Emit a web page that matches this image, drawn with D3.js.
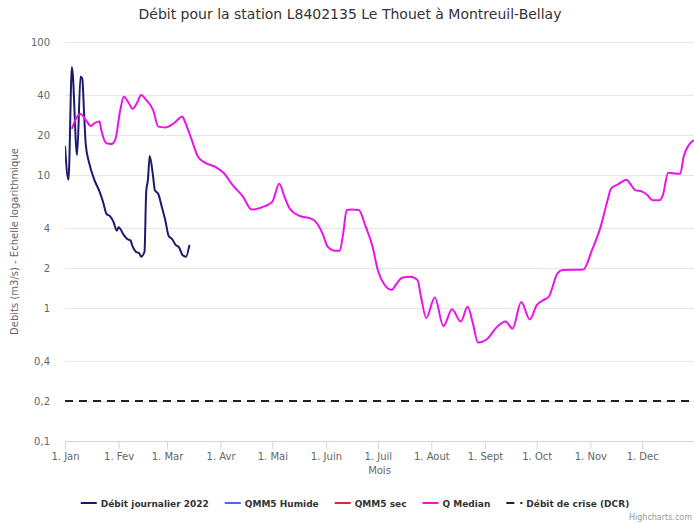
<!DOCTYPE html>
<html><head><meta charset="utf-8">
<script src="https://cdn.jsdelivr.net/npm/d3@7"></script>
<style>
body{margin:0;background:#fff}
svg{display:block;font-family:"DejaVu Sans",sans-serif}
</style></head>
<body><svg id="chart" width="694" height="524"></svg>
<script>
// ---------- data ----------
const titleText = "Débit pour la station L8402135 Le Thouet à Montreuil-Bellay";
const monthLabels = ["Jan","Fev","Mar","Avr","Mai","Juin","Juil","Aout","Sept","Oct","Nov","Dec"];
const yTickValues = [0.1, 0.2, 0.4, 1, 2, 4, 10, 20, 40, 100];

// Débit journalier 2022 (day of year, 0 = 1 Jan)
const dailyDays   = [0,2,4,7,9,10,11,12,14,17,20,22,24,26,28,30,31,34,36,38,39,41,43,44,46,47,48,49,51,52,54,56,58,60,62,64,66,68,70,72];
const dailyValues = [16.5,9.2,65,14.1,55,53,30,17,12.3,9.2,7.5,6.3,5.1,4.9,4.46,3.81,4.04,3.54,3.3,3.2,2.93,2.65,2.58,2.43,2.65,7.5,9.2,13.9,9.7,7.7,7.2,5.77,4.59,3.48,3.3,2.98,2.86,2.5,2.43,2.98];

// QMM5 (no visible data)
const qmm5HumideDays = [], qmm5HumideValues = [];
const qmm5SecDays = [], qmm5SecValues = [];

// Q Median
const medianDays   = [4,6,9,12,15,17,20,21,24,27,29,32,34,37,39,42,44,47,51,54,58,63,68,69,73,77,81,87,92,97,103,108,116,120,124,127,130,136,142,145,149,152,156,159,161,163,166,170,174,178,181,185,189,192,195,200,204,206,209,214,219,224,229,233,236,239,244,250,255,259,264,269,273,277,280,285,288,300,305,310,314,316,320,325,327,330,334,337,340,344,346,349,352,356,358,361,364];
const medianValues = [22.2,25.9,28.7,25.9,23.4,24.5,25.2,21.8,17.3,17.1,18.3,30.8,38.8,34.6,31.5,35.5,39.9,36.6,30.8,23.1,22.8,24.5,27.5,25.9,18.9,13.7,12.4,11.5,10.3,8.4,6.87,5.5,5.85,6.3,8.6,6.87,5.6,4.92,4.72,4.46,3.64,2.89,2.7,2.7,3.64,5.46,5.5,5.46,4.09,2.89,1.93,1.49,1.37,1.53,1.69,1.72,1.62,1.22,0.84,1.2,0.73,0.98,0.79,1.02,0.77,0.55,0.58,0.72,0.79,0.7,1.11,0.82,1.05,1.15,1.22,1.82,1.93,1.95,2.73,4.09,6.47,7.9,8.5,9.2,8.6,7.7,7.5,7.07,6.47,6.47,7.07,10.4,10.3,10.2,13.7,16.8,18.3];

// Débit de crise
const dcrValue = 0.2;

const legendNames  = ["Débit journalier 2022","QMM5 Humide","QMM5 sec","Q Median","Débit de crise (DCR)"];
const legendColors = ["#1b1b6b","#3d6ef0","#e3262b","#ea14ea","#222222"];

// ---------- chart ----------
const svg = d3.select("#chart");
const W = 694, H = 524;
const plot = {left: 65, right: 694, top: 42, bottom: 441};
const dayToDate = d => new Date(2022, 0, 1 + d);

const x = d3.scaleTime().domain([new Date(2022,0,1), new Date(2022,11,31)]).range([plot.left, plot.right]);
const y = d3.scaleLog().domain([0.1, 100]).range([plot.bottom, plot.top]);

svg.append("rect").attr("width", W).attr("height", H).attr("fill", "#fff");

// title
svg.append("text").attr("x", 350).attr("y", 19).attr("text-anchor", "middle")
  .attr("font-size", 14).attr("fill", "#333").text(titleText);

// grid
const grid = svg.append("g").attr("transform", `translate(${plot.left},0)`)
  .call(d3.axisRight(y).tickValues(yTickValues).tickSize(plot.right - plot.left).tickFormat(""));
grid.select(".domain").remove();
grid.selectAll("line").attr("stroke", "#e6e6e6");

// y axis labels
const yAx = svg.append("g").attr("transform", `translate(${plot.left},0)`)
  .call(d3.axisLeft(y).tickValues(yTickValues).tickSize(0).tickPadding(15)
    .tickFormat(d => String(d).replace(".", ",")));
yAx.select(".domain").remove();
yAx.selectAll("text").attr("font-size", 10).attr("fill", "#666").attr("font-family", "DejaVu Sans");

// x axis
const monthTicks = monthLabels.map((m, i) => new Date(2022, i, 1));
const xAx = svg.append("g").attr("transform", `translate(0,${plot.bottom})`)
  .call(d3.axisBottom(x).tickValues(monthTicks).tickSize(8).tickPadding(4)
    .tickFormat(d => "1. " + monthLabels[d.getMonth()]));
xAx.select(".domain").attr("stroke", "#ccd6eb");
xAx.selectAll("line").attr("stroke", "#ccd6eb");
xAx.selectAll("text").attr("font-size", 10).attr("fill", "#666").attr("font-family", "DejaVu Sans");

// axis titles
svg.append("text").attr("x", (plot.left + plot.right) / 2).attr("y", 474).attr("text-anchor", "middle")
  .attr("font-size", 10).attr("fill", "#666").text("Mois");
svg.append("text").attr("transform", `translate(18,${(plot.top + plot.bottom) / 2}) rotate(-90)`)
  .attr("text-anchor", "middle").attr("font-size", 10).attr("fill", "#666")
  .text("Debits (m3/s) - Echelle logarithmique");

// clip
svg.append("clipPath").attr("id", "clip").append("rect")
  .attr("x", plot.left).attr("y", plot.top - 5).attr("width", plot.right - plot.left).attr("height", plot.bottom - plot.top + 5);
const series = svg.append("g").attr("clip-path", "url(#clip)");

const line = d3.line().x(d => x(dayToDate(d[0]))).y(d => y(d[1])).curve(d3.curveMonotoneX);
const zip = (a, b) => a.map((d, i) => [d, b[i]]);

series.append("path").datum(zip(dailyDays, dailyValues)).attr("d", line)
  .attr("fill", "none").attr("stroke", legendColors[0]).attr("stroke-width", 2).attr("stroke-linejoin", "round");
series.append("path").datum(zip(qmm5HumideDays, qmm5HumideValues)).attr("d", line)
  .attr("fill", "none").attr("stroke", legendColors[1]).attr("stroke-width", 2);
series.append("path").datum(zip(qmm5SecDays, qmm5SecValues)).attr("d", line)
  .attr("fill", "none").attr("stroke", legendColors[2]).attr("stroke-width", 2);
series.append("path").datum(zip(medianDays, medianValues)).attr("d", line)
  .attr("fill", "none").attr("stroke", legendColors[3]).attr("stroke-width", 2).attr("stroke-linejoin", "round");
series.append("line").attr("x1", plot.left).attr("x2", plot.right)
  .attr("y1", y(dcrValue)).attr("y2", y(dcrValue))
  .attr("stroke", legendColors[4]).attr("stroke-width", 2).attr("stroke-dasharray", "8,6");

// legend
const legend = svg.append("g").attr("font-size", 9).attr("font-weight", "bold").attr("fill", "#333");
const items = legendNames.map((name, i) => {
  const g = legend.append("g");
  g.append("line").attr("x1", 0).attr("x2", 16).attr("y1", 0).attr("y2", 0)
    .attr("stroke", legendColors[i]).attr("stroke-width", 2)
    .attr("stroke-dasharray", i === 4 ? "8,6" : null);
  const t = g.append("text").attr("x", 20).attr("y", 3.5).attr("fill", "#333").text(name);
  return {g, w: 20 + t.node().getComputedTextLength()};
});
const gap = 16;
const total = d3.sum(items, d => d.w) + gap * (items.length - 1);
let cx = 355 - total / 2;
items.forEach(it => { it.g.attr("transform", `translate(${cx},503)`); cx += it.w + gap; });

// credits
svg.append("text").attr("x", 692).attr("y", 520).attr("text-anchor", "end")
  .attr("font-size", 8).attr("fill", "#999").text("Highcharts.com");
</script></body></html>
